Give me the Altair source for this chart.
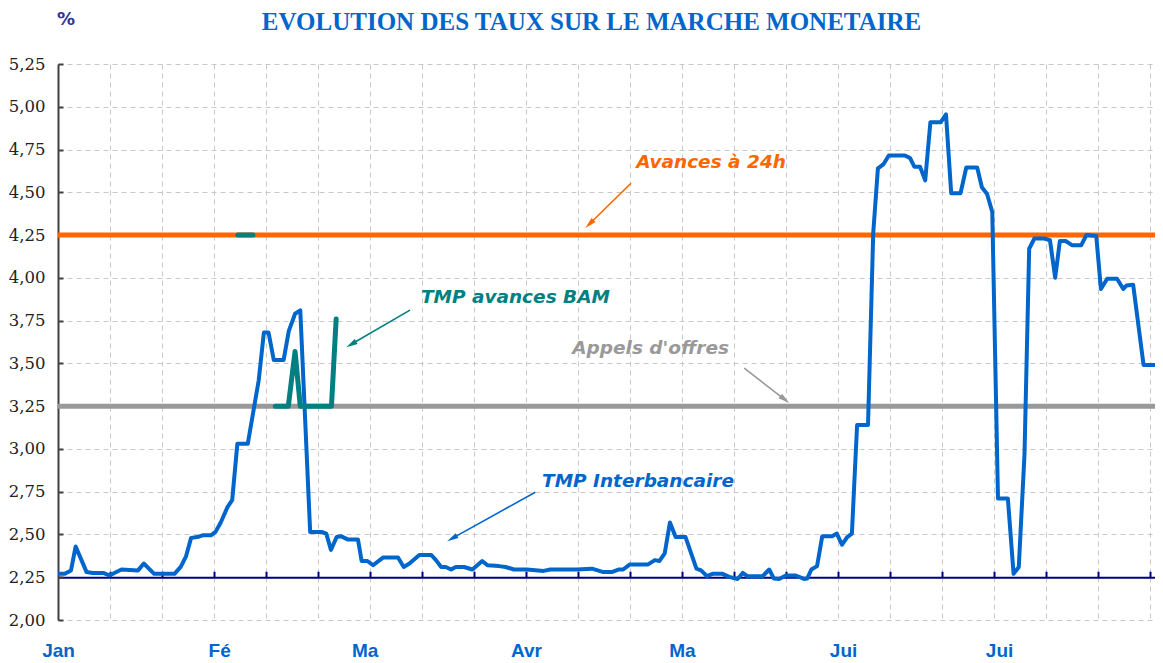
import json
import math
import altair as alt
import pandas as pd

# ---------------- data ----------------
TITLE = "EVOLUTION DES TAUX SUR LE MARCHE MONETAIRE"
UNIT = "%"

# TMP Interbancaire (day of period, rate %)
interbank_day = [0, 1.3, 2.5, 3.4, 5.5, 6.7, 8.7, 9.9, 12.2, 15.4, 16.5, 18.5, 22.4, 23.6, 24.6,
                 25.6, 26.8, 27.8, 29.4, 30.3, 31.3, 32.6, 33.5, 34.5, 36.5, 38.6, 39.6, 40.5,
                 41.5, 43.4, 44.4, 45.6, 46.6, 48.5, 50.7, 51.6, 52.5, 53.6, 54.4, 55.8, 57.7,
                 58.4, 59.5, 60.6, 62.5, 65.4, 66.5, 67.6, 69.5, 71.8, 72.7, 73.7, 74.6, 75.6,
                 76.5, 78.1, 79.7, 81.6, 82.6, 84.8, 86.1, 87.7, 90.2, 93.4, 94.7, 99.8, 102.7,
                 104.9, 106.5, 107.8, 108.7, 110.0, 113.5, 114.8, 115.7, 116.7, 117.7, 118.8,
                 120.7, 122.8, 123.7, 124.8, 125.9, 127.8, 129.1, 130.7, 131.7, 132.6, 135.5,
                 136.8, 137.7, 138.7, 140.0, 141.9, 143.5, 144.1, 144.9, 146.0, 147.0, 148.9,
                 149.8, 150.8, 151.8, 152.7, 153.7, 155.8, 156.8, 157.7, 158.8, 159.8, 162.9,
                 163.9, 164.7, 165.8, 166.8, 167.8, 169.8, 170.8, 171.8, 173.6, 174.7, 176.8,
                 177.7, 178.7, 179.7, 180.8, 182.7, 183.8, 184.8, 185.9, 186.8, 187.8, 189.7,
                 190.8, 191.8, 192.7, 193.8, 195.1, 196.8, 197.8, 199.7, 200.6, 201.8, 203.7,
                 204.9, 205.5, 206.8, 208.8, 211]
interbank_rate = [2.27, 2.27, 2.29, 2.43, 2.28, 2.275, 2.275, 2.26, 2.295, 2.29, 2.33, 2.27, 2.27,
                  2.31, 2.37, 2.48, 2.485, 2.495, 2.495, 2.515, 2.57, 2.66, 2.70, 3.03, 3.03,
                  3.40, 3.68, 3.68, 3.52, 3.52, 3.69, 3.79, 3.81, 2.515, 2.515, 2.505, 2.41,
                  2.485, 2.49, 2.47, 2.47, 2.345, 2.345, 2.32, 2.365, 2.365, 2.31, 2.33, 2.38,
                  2.38, 2.35, 2.31, 2.31, 2.295, 2.31, 2.31, 2.295, 2.345, 2.32, 2.315, 2.31,
                  2.295, 2.295, 2.287, 2.295, 2.295, 2.30, 2.28, 2.28, 2.295, 2.295, 2.325,
                  2.325, 2.35, 2.345, 2.39, 2.57, 2.485, 2.485, 2.30, 2.29, 2.256, 2.27, 2.27,
                  2.252, 2.24, 2.275, 2.256, 2.256, 2.295, 2.242, 2.24, 2.26, 2.26, 2.24, 2.242,
                  2.295, 2.315, 2.49, 2.49, 2.505, 2.44, 2.485, 2.505, 3.14, 3.14, 4.26, 4.64,
                  4.665, 4.715, 4.715, 4.70, 4.65, 4.65, 4.57, 4.91, 4.91, 4.955, 4.495, 4.495,
                  4.645, 4.645, 4.53, 4.49, 4.385, 2.71, 2.71, 2.27, 2.31, 2.97, 4.17, 4.23,
                  4.23, 4.22, 4.00, 4.215, 4.215, 4.19, 4.19, 4.25, 4.245, 3.935, 3.995, 3.995,
                  3.935, 3.955, 3.96, 3.49, 3.49]

# TMP avances BAM (two separate episodes)
bam_segment = [1, 1, 2, 2, 2, 2, 2, 2]
bam_day = [34.6, 37.5, 41.8, 44.3, 45.6, 46.6, 52.6, 53.5]
bam_rate = [4.25, 4.25, 3.25, 3.25, 3.57, 3.25, 3.25, 3.76]

# constant rates over the period
period_day = [0, 211]
avances_rate = [4.25, 4.25]
appels_rate = [3.25, 3.25]
axis_cross_rate = 2.25

# axes
month_days = [0, 31, 59, 90, 120, 151, 181]
month_labels = ["Jan", "Fé", "Ma", "Avr", "Ma", "Jui", "Jui"]
grid_days = [10, 20, 30, 40, 50, 60, 70, 80, 90, 100, 110, 120, 130, 140, 150, 160, 170, 180,
             190, 200, 210]
y_ticks = [2.00, 2.25, 2.50, 2.75, 3.00, 3.25, 3.50, 3.75, 4.00, 4.25, 4.50, 4.75, 5.00, 5.25]

# annotations
label_text = ["Avances à 24h", "TMP avances BAM", "Appels d'offres", "TMP Interbancaire"]
label_day = [111.2, 69.8, 98.9, 93.1]
label_rate = [4.676, 3.887, 3.589, 2.811]
label_color = ["#FF6600", "#008080", "#999999", "#0066CC"]

arrow_from_day = [110.2, 67.7, 132.0, 91.8]
arrow_from_rate = [4.553, 3.811, 3.472, 2.747]
arrow_to_day = [101.4, 55.4, 140.7, 74.8]
arrow_to_rate = [4.290, 3.594, 3.267, 2.460]

# ---------------- layout ----------------
W, H = 1097, 556
X0, X1 = 0, 211
Y0, Y1 = 2.0, 5.25
PXD = W / (X1 - X0)
PXV = H / (Y1 - Y0)

xs = alt.Scale(domain=[X0, X1], nice=False, zero=False)
ys = alt.Scale(domain=[Y0, Y1], nice=False, zero=False)

GRID = "#C8C8C8"
DASH = [5, 4]

df_ib = pd.DataFrame({"day": interbank_day, "rate": interbank_rate})
df_bam = pd.DataFrame({"day": bam_day, "rate": bam_rate, "seg": bam_segment})
df_av = pd.DataFrame({"day": period_day, "rate": avances_rate})
df_ao = pd.DataFrame({"day": period_day, "rate": appels_rate})

# arrow heads (centre placed half a head-length behind the tip)
heads = []
HL = 12.0
for fd, fr, td, tr, c in zip(arrow_from_day, arrow_from_rate, arrow_to_day, arrow_to_rate, label_color):
    dx = (td - fd) * PXD
    dy = -(tr - fr) * PXV
    L = math.hypot(dx, dy)
    ux, uy = dx / L, dy / L
    cd = td - ux * HL / 2 / PXD
    cr = tr + uy * HL / 2 / PXV
    ang = math.degrees(math.atan2(ux, -uy)) % 360
    heads.append({"day": cd, "rate": cr, "angle": ang, "color": c, "fd": fd, "fr": fr})
df_heads = pd.DataFrame(heads)
df_labels = pd.DataFrame({"text": label_text, "day": label_day, "rate": label_rate,
                          "color": label_color})

label_expr = "{}[indexof({}, datum.value)]".format(
    json.dumps(month_labels, ensure_ascii=False), json.dumps(month_days))

# ---------------- layers ----------------
appels = alt.Chart(df_ao).mark_line(color="#999999", strokeWidth=5).encode(
    x=alt.X("day:Q", scale=xs, axis=alt.Axis(
        orient="top", offset=-H * (Y1 - axis_cross_rate) / (Y1 - Y0), values=grid_days,
        labels=False, grid=False, domain=True, domainColor="#000080", domainWidth=2,
        ticks=True, tickColor="#000080", tickWidth=2, tickSize=6, title=None, zindex=0)),
    y=alt.Y("rate:Q", scale=ys, axis=None),
)

avances = alt.Chart(df_av).mark_line(color="#FF6600", strokeWidth=5).encode(
    x=alt.X("day:Q", scale=xs, axis=alt.Axis(
        orient="bottom", values=month_days, labelExpr=label_expr, grid=False, ticks=False,
        tickSize=0, domain=False, labelFont="Liberation Sans", labelFontSize=19,
        labelFontWeight="bold", labelColor="#0066CC", labelPadding=30,
        labelBaseline="middle", labelAlign="center", labelFlush=False, labelOverlap=False,
        labelBound=False, title=None)),
    y=alt.Y("rate:Q", scale=ys, axis=alt.Axis(
        orient="right", offset=-W, values=y_ticks, labels=False, grid=False, domain=True,
        domainColor="#404040", domainWidth=2, ticks=True, tickColor="#404040", tickWidth=2,
        tickSize=5, title=None)),
)

interbank = alt.Chart(df_ib).mark_line(color="#0066CC", strokeWidth=4, strokeJoin="round").encode(
    x=alt.X("day:Q", scale=xs, axis=alt.Axis(
        orient="bottom", values=grid_days, labels=False, ticks=False, tickSize=0, domain=False,
        grid=True, gridColor=GRID, gridDash=DASH, gridWidth=1, title=None)),
    y=alt.Y("rate:Q", scale=ys, axis=alt.Axis(
        orient="left", values=y_ticks, labelExpr="replace(format(datum.value, '.2f'), '.', ',')",
        labelFont="DejaVu Serif", labelFontSize=16.5, labelColor="#222222", labelPadding=13,
        ticks=False, tickSize=0, domain=False, grid=True, gridColor=GRID, gridDash=DASH,
        gridWidth=1, labelFlush=False, labelOverlap=False, title=None)),
)

bam = alt.Chart(df_bam).mark_line(color="#008080", strokeWidth=5, strokeCap="round",
                                  strokeJoin="round").encode(
    x=alt.X("day:Q", scale=xs, axis=None),
    y=alt.Y("rate:Q", scale=ys, axis=None),
    detail="seg:N",
)

arrows = alt.Chart(df_heads).mark_rule(strokeWidth=1.6).encode(
    x=alt.X("fd:Q", scale=xs, axis=None),
    x2="day:Q",
    y=alt.Y("fr:Q", scale=ys, axis=None),
    y2="rate:Q",
    color=alt.Color("color:N", scale=None),
)

heads_layer = alt.Chart(df_heads).mark_point(
    shape="M0,-1L0.5,1L-0.5,1Z", filled=True, size=130, opacity=1, strokeWidth=0).encode(
    x=alt.X("day:Q", scale=xs, axis=None),
    y=alt.Y("rate:Q", scale=ys, axis=None),
    angle=alt.Angle("angle:Q", scale=None),
    color=alt.Color("color:N", scale=None),
)

labels = alt.Chart(df_labels).mark_text(
    align="left", baseline="middle", font="DejaVu Sans", fontSize=18.5, fontWeight="bold",
    fontStyle="italic").encode(
    x=alt.X("day:Q", scale=xs, axis=None),
    y=alt.Y("rate:Q", scale=ys, axis=None),
    text="text:N",
    color=alt.Color("color:N", scale=None),
)

title = alt.Chart(pd.DataFrame({"t": [TITLE]})).mark_text(
    align="center", baseline="top", font="Liberation Serif", fontSize=25,
    fontWeight="bold", color="#0066CC").encode(
    x=alt.value(533.5), y=alt.value(-54), text="t:N")

unit = alt.Chart(pd.DataFrame({"t": [UNIT]})).mark_text(
    align="center", baseline="middle", font="DejaVu Sans", fontSize=18, fontWeight="bold",
    color="#333399").encode(
    x=alt.value(8), y=alt.value(-44), text="t:N")

chart = alt.layer(
    appels, avances, interbank, bam, arrows, heads_layer, labels, title, unit
).resolve_axis(x="independent", y="independent").properties(
    width=W, height=H,
    padding={"left": 50, "top": 56, "right": 0, "bottom": 47},
    autosize=alt.AutoSizeParams(type="none"),
).configure_view(stroke=None)

chart.save("out.html", embed_options={"renderer": "svg", "actions": False})
